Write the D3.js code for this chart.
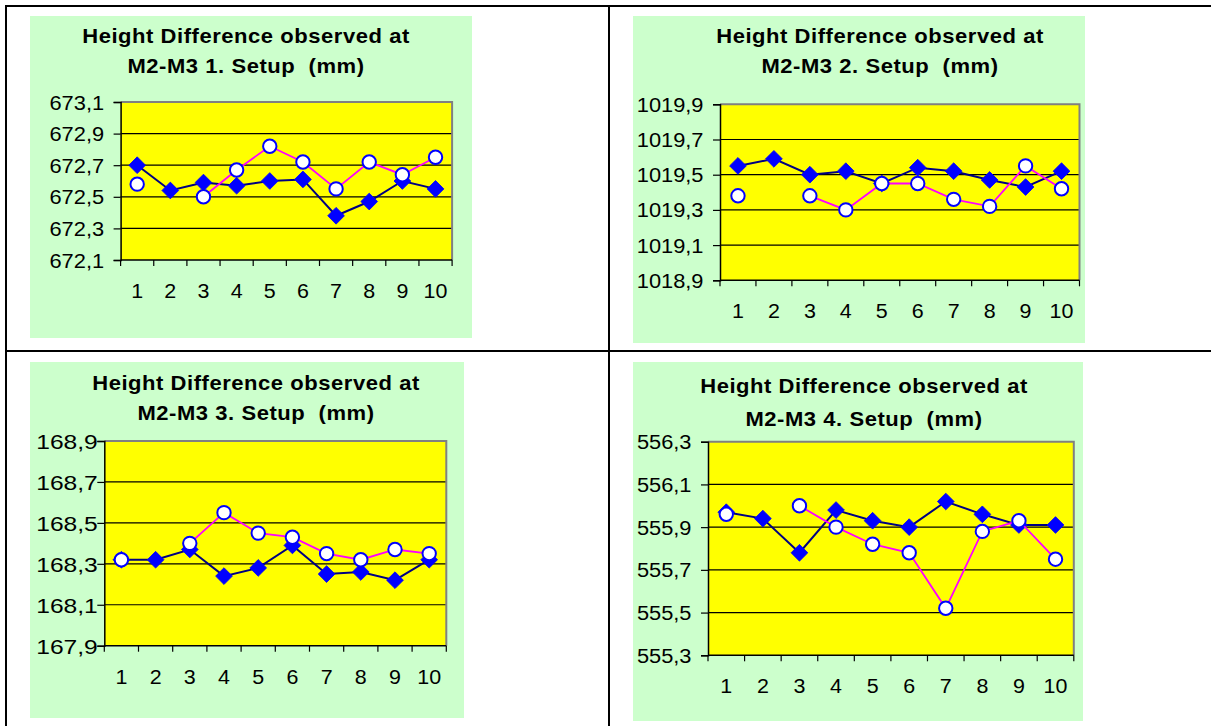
<!DOCTYPE html>
<html>
<head>
<meta charset="utf-8">
<script src="https://cdn.jsdelivr.net/npm/d3@7"></script>
<style>
  html, body { margin: 0; padding: 0; background: #ffffff; }
  svg { display: block; }
  text { font-family: "Liberation Sans", Arial, sans-serif; fill: #000; white-space: pre; }
</style>
</head>
<body>
<svg id="chart" width="1211" height="726"></svg>
<script>
// ---------- DATA ----------
const categories = [1, 2, 3, 4, 5, 6, 7, 8, 9, 10];

const titleLine1 = "Height Difference observed at";
const titleLines2 = [
  "M2-M3 1. Setup  (mm)",
  "M2-M3 2. Setup  (mm)",
  "M2-M3 3. Setup  (mm)",
  "M2-M3 4. Setup  (mm)"
];

const setup1Diamond = [672.70, 672.54, 672.59, 672.57, 672.60, 672.61, 672.38, 672.47, 672.60, 672.55];
const setup1Circle  = [672.58, null,   672.50, 672.67, 672.82, 672.72, 672.55, 672.72, 672.64, 672.75];

const setup2Diamond = [1019.55, 1019.59, 1019.50, 1019.52, 1019.45, 1019.54, 1019.52, 1019.47, 1019.43, 1019.52];
const setup2Circle  = [1019.38, null,    1019.38, 1019.30, 1019.45, 1019.45, 1019.36, 1019.32, 1019.55, 1019.42];

const setup3Diamond = [168.32, 168.32, 168.37, 168.24, 168.28, 168.39, 168.25, 168.26, 168.22, 168.32];
const setup3Circle  = [168.32, null,   168.40, 168.55, 168.45, 168.43, 168.35, 168.32, 168.37, 168.35];

const setup4Diamond = [555.97, 555.94, 555.78, 555.98, 555.93, 555.90, 556.02, 555.96, 555.91, 555.91];
const setup4Circle  = [555.96, null,   556.00, 555.90, 555.82, 555.78, 555.52, 555.88, 555.93, 555.75];

const yTicks1 = [672.1, 672.3, 672.5, 672.7, 672.9, 673.1];
const yTicks2 = [1018.9, 1019.1, 1019.3, 1019.5, 1019.7, 1019.9];
const yTicks3 = [167.9, 168.1, 168.3, 168.5, 168.7, 168.9];
const yTicks4 = [555.3, 555.5, 555.7, 555.9, 556.1, 556.3];

// ---------- LAYOUT (positions / styles only) ----------
const layouts = [
  {gx: 30,  gy: 16,  gw: 442, gh: 322, px: 120.6, py: 102,   pw: 331.5, ph: 158,   tx: 246, t1: 42.7,  t2: 72.7,  gap: 16.5, lfs: 19.5, lsx: 1.12},
  {gx: 633, gy: 16,  gw: 452, gh: 327, px: 720,   py: 104.3, pw: 359.5, ph: 176,   tx: 880, t1: 42.7,  t2: 72.7,  gap: 16.5, lfs: 19.5, lsx: 1.12},
  {gx: 30,  gy: 362, gw: 434, gh: 356, px: 104.3, py: 441,   pw: 342,   ph: 204.7, tx: 256, t1: 390,   t2: 419.5, gap: 6.5,  lfs: 20.5, lsx: 1.2},
  {gx: 633, gy: 362, gw: 450, gh: 359, px: 708,   py: 441.7, pw: 365.8, ph: 213.6, tx: 864, t1: 393.3, t2: 426,   gap: 16.5, lfs: 19.5, lsx: 1.12}
];

const panels = [
  {diamond: setup1Diamond, circle: setup1Circle, ticks: yTicks1, title2: titleLines2[0]},
  {diamond: setup2Diamond, circle: setup2Circle, ticks: yTicks2, title2: titleLines2[1]},
  {diamond: setup3Diamond, circle: setup3Circle, ticks: yTicks3, title2: titleLines2[2]},
  {diamond: setup4Diamond, circle: setup4Circle, ticks: yTicks4, title2: titleLines2[3]}
];

const locale = d3.formatLocale({decimal: ",", thousands: "", grouping: [3], currency: ["", ""]});
const fmt = locale.format(".1f");

const svg = d3.select("#chart");

// table frame
const frame = svg.append("g").attr("stroke", "#000").attr("stroke-width", 2);
frame.append("line").attr("x1", 5).attr("x2", 1211).attr("y1", 6).attr("y2", 6);
frame.append("line").attr("x1", 6).attr("x2", 6).attr("y1", 5).attr("y2", 726);
frame.append("line").attr("x1", 609).attr("x2", 609).attr("y1", 5).attr("y2", 726);
frame.append("line").attr("x1", 5).attr("x2", 1211).attr("y1", 351).attr("y2", 351);

panels.forEach((p, i) => {
  const L = layouts[i];
  const g = svg.append("g");

  g.append("rect").attr("x", L.gx).attr("y", L.gy).attr("width", L.gw).attr("height", L.gh)
    .attr("fill", "#CCFFCC");

  // title (slightly widened glyphs like the reference)
  [titleLine1, p.title2].forEach((t, j) => {
    g.append("text")
      .attr("transform", `translate(${L.tx},${j === 0 ? L.t1 : L.t2}) scale(1.1,1)`)
      .attr("text-anchor", "middle")
      .attr("font-size", 20).attr("font-weight", "bold").attr("letter-spacing", 0.5)
      .text(t);
  });

  const x = d3.scaleBand().domain(categories).range([L.px, L.px + L.pw]).padding(0);
  const y = d3.scaleLinear().domain([p.ticks[0], p.ticks[p.ticks.length - 1]])
    .range([L.py + L.ph, L.py]);

  // plot area
  g.append("rect").attr("x", L.px).attr("y", L.py).attr("width", L.pw).attr("height", L.ph)
    .attr("fill", "#FFFF00");

  // gridlines
  g.append("g").selectAll("line").data(p.ticks.slice(1, -1)).join("line")
    .attr("x1", L.px).attr("x2", L.px + L.pw)
    .attr("y1", d => y(d)).attr("y2", d => y(d))
    .attr("stroke", "#000").attr("stroke-width", 1.2);

  // grey border top and right
  g.append("path")
    .attr("d", `M${L.px},${L.py}H${L.px + L.pw}V${L.py + L.ph}`)
    .attr("fill", "none").attr("stroke", "#808080").attr("stroke-width", 2);

  // y axis
  const yAxis = d3.axisLeft(y).tickValues(p.ticks).tickFormat(fmt).tickSize(7);
  const ya = g.append("g").attr("transform", `translate(${L.px},0)`).call(yAxis);
  ya.select(".domain").attr("stroke", "#000").attr("stroke-width", 1.5);
  ya.selectAll(".tick line").attr("stroke", "#000").attr("stroke-width", 1.2);
  ya.selectAll(".tick text")
    .attr("x", 0).attr("dy", "0.36em")
    .attr("transform", `translate(${-L.gap},0) scale(${L.lsx},1)`)
    .attr("font-size", L.lfs)
    .attr("font-family", "'Liberation Sans', Arial, sans-serif").attr("fill", "#000");

  // x axis
  const xa = g.append("g");
  xa.append("line").attr("x1", L.px).attr("x2", L.px + L.pw)
    .attr("y1", L.py + L.ph).attr("y2", L.py + L.ph)
    .attr("stroke", "#000").attr("stroke-width", 1.5);
  const bounds = categories.map(c => x(c)).concat([x(categories[categories.length - 1]) + x.bandwidth()]);
  xa.selectAll("line.tk").data(bounds).join("line").attr("class", "tk")
    .attr("x1", d => d).attr("x2", d => d)
    .attr("y1", L.py + L.ph).attr("y2", L.py + L.ph + 6)
    .attr("stroke", "#000").attr("stroke-width", 1.2);
  xa.selectAll("text").data(categories).join("text")
    .attr("transform", d => `translate(${x(d) + x.bandwidth() / 2},${L.py + L.ph + 38}) scale(1.1,1)`)
    .attr("text-anchor", "middle").attr("font-size", 19.5)
    .text(d => d);

  const cx = (d, k) => x(categories[k]) + x.bandwidth() / 2;

  // diamond series
  const line = d3.line().defined(d => d != null).x((d, k) => cx(d, k)).y(d => y(d));
  g.append("path").attr("d", line(p.diamond)).attr("fill", "none")
    .attr("stroke", "#000080").attr("stroke-width", 2);
  const diamond = d3.symbol().type(d3.symbolSquare).size(140);
  g.append("g").selectAll("path").data(p.diamond.map((v, k) => ({v, k})).filter(d => d.v != null))
    .join("path")
    .attr("d", diamond)
    .attr("transform", d => `translate(${cx(d.v, d.k)},${y(d.v)}) rotate(45)`)
    .attr("fill", "#0000FF").attr("stroke", "#0000FF").attr("stroke-width", 0.8);

  // circle series
  g.append("path").attr("d", line(p.circle)).attr("fill", "none")
    .attr("stroke", "#FF00FF").attr("stroke-width", 1.8);
  g.append("g").selectAll("circle").data(p.circle.map((v, k) => ({v, k})).filter(d => d.v != null))
    .join("circle")
    .attr("cx", d => cx(d.v, d.k)).attr("cy", d => y(d.v)).attr("r", 6.7)
    .attr("fill", "#FFFFFF").attr("stroke", "#0000FF").attr("stroke-width", 2);
});
</script>
</body>
</html>
